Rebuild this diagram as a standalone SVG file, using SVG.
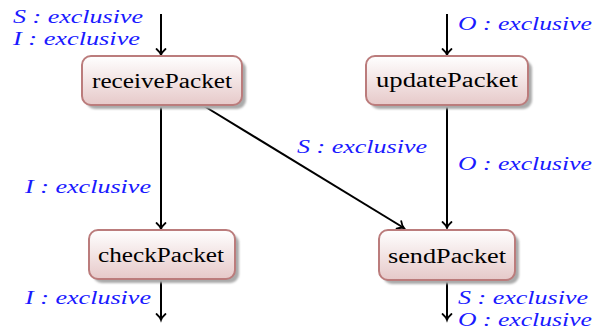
<svg xmlns="http://www.w3.org/2000/svg" width="594" height="330" viewBox="0 0 594 330">
<defs>
<linearGradient id="g" x1="0" y1="0" x2="0" y2="1">
<stop offset="0" stop-color="#ffffff"/>
<stop offset="1" stop-color="#e6c9c9"/>
</linearGradient>
<filter id="blur" x="-10%" y="-20%" width="120%" height="140%"><feGaussianBlur stdDeviation="1"/></filter>
<marker id="arr" markerWidth="12" markerHeight="12" refX="8" refY="6" orient="auto" markerUnits="userSpaceOnUse">
<path d="M2,1.5 Q5,5 8,6 Q5,7 2,10.5" fill="none" stroke="#000" stroke-width="1.8" stroke-linecap="round"/>
</marker>
</defs>
<style>
.shadow{fill:#aaaaaa;filter:url(#blur)}
.box{fill:url(#g);stroke:#bb7c7c;stroke-width:2}
.nt{font-family:"Liberation Serif","Times New Roman",Times,"Noto Serif","DejaVu Serif",FreeSerif,serif;font-size:20px;fill:#000;text-anchor:middle}
.lb{font-family:"Liberation Serif","Times New Roman",Times,"Noto Serif","DejaVu Serif",FreeSerif,serif;font-style:italic;font-size:18px;fill:#1a1aff}
.edge{stroke:#000;stroke-width:2;fill:none;marker-end:url(#arr)}
</style>
<g id="connectors">
<line class="edge" x1="161" y1="14" x2="161" y2="55"/>
<line class="edge" x1="447" y1="14" x2="447" y2="55"/>
<line class="edge" x1="161" y1="105" x2="161" y2="229"/>
<line class="edge" x1="204" y1="106" x2="404" y2="228"/>
<line class="edge" x1="447" y1="105" x2="447" y2="228"/>
<line class="edge" x1="161" y1="280" x2="161" y2="320"/>
<line class="edge" x1="447" y1="281" x2="447" y2="320"/>
</g>
<g id="labels">
<text class="lb" x="13" y="23" textLength="130" lengthAdjust="spacingAndGlyphs">S : exclusive</text>
<text class="lb" x="13" y="45" textLength="127" lengthAdjust="spacingAndGlyphs">I : exclusive</text>
<text class="lb" x="458" y="30" textLength="134" lengthAdjust="spacingAndGlyphs">O : exclusive</text>
<text class="lb" x="297" y="153" textLength="130" lengthAdjust="spacingAndGlyphs">S : exclusive</text>
<text class="lb" x="458" y="170" textLength="134" lengthAdjust="spacingAndGlyphs">O : exclusive</text>
<text class="lb" x="25" y="193" textLength="126" lengthAdjust="spacingAndGlyphs">I : exclusive</text>
<text class="lb" x="25" y="304" textLength="126" lengthAdjust="spacingAndGlyphs">I : exclusive</text>
<text class="lb" x="458" y="304" textLength="130" lengthAdjust="spacingAndGlyphs">S : exclusive</text>
<text class="lb" x="458" y="326" textLength="134" lengthAdjust="spacingAndGlyphs">O : exclusive</text>
</g>
<g id="receivePacket">
<rect class="shadow" x="86" y="60" width="160" height="49" rx="9"/>
<rect class="box" x="82" y="56" width="160" height="49" rx="9"/>
<text class="nt" x="162" y="88" textLength="140" lengthAdjust="spacingAndGlyphs">receivePacket</text>
</g>
<g id="updatePacket">
<rect class="shadow" x="370" y="60" width="162" height="49" rx="9"/>
<rect class="box" x="366" y="56" width="162" height="49" rx="9"/>
<text class="nt" x="447" y="87" textLength="142" lengthAdjust="spacingAndGlyphs">updatePacket</text>
</g>
<g id="checkPacket">
<rect class="shadow" x="93" y="234" width="146" height="49" rx="9"/>
<rect class="box" x="89" y="230" width="146" height="49" rx="9"/>
<text class="nt" x="161" y="262" textLength="126" lengthAdjust="spacingAndGlyphs">checkPacket</text>
</g>
<g id="sendPacket">
<rect class="shadow" x="383" y="234" width="136" height="50" rx="9"/>
<rect class="box" x="379" y="230" width="136" height="50" rx="9"/>
<text class="nt" x="447" y="263" textLength="118" lengthAdjust="spacingAndGlyphs">sendPacket</text>
</g>
</svg>
